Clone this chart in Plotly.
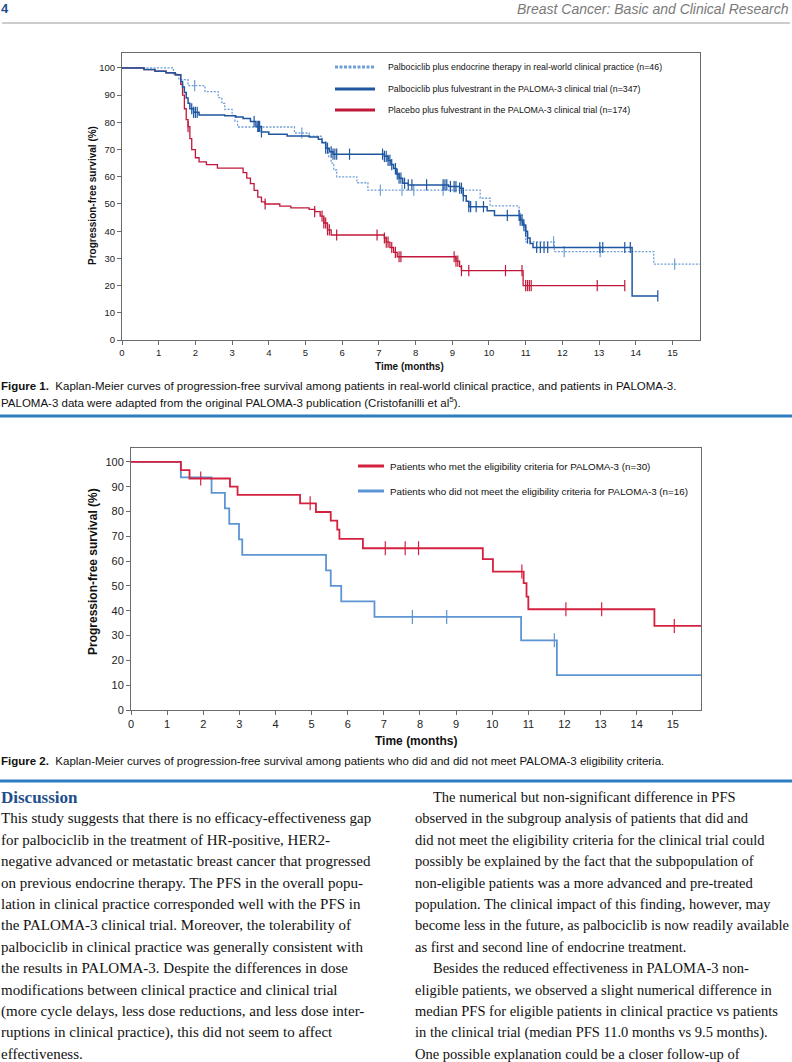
import numpy as np
import plotly.graph_objects as go

W, H = 792, 1062

# ---------------- Figure 1 data ----------------
rw_t = [0, 1.4, 1.55, 1.8, 2.26, 2.62, 2.72, 2.8, 3.0, 3.08, 3.15, 4.7, 5.1, 5.45, 5.55, 5.63, 5.7, 5.77, 5.85, 6.4, 6.7, 9.76, 10.03, 10.82, 10.9, 10.96, 11.0, 11.78, 14.49, 15.78]
rw_s = [100, 97.8, 95.7, 93.5, 91.3, 89.1, 87.0, 84.8, 82.6, 80.4, 78.3, 76.1, 74.9, 72.9, 70.5, 67.4, 65.0, 62.5, 60.0, 57.8, 55.1, 52.1, 49.3, 46.5, 43.5, 40.0, 36.1, 32.5, 27.9, 27.9]
rw_cens = [1.98, 4.9, 7.04, 7.63, 7.95, 8.75, 11.76, 12.05, 13.03, 15.06]

pal_t = [0, 0.6, 0.9, 1.2, 1.45, 1.6, 1.65, 1.7, 1.75, 1.8, 1.85, 1.95, 2.1, 2.8, 3.1, 3.3, 3.5, 3.65, 3.8, 4.0, 4.5, 5.1, 5.35, 5.45, 5.55, 5.65, 5.75, 7.15, 7.25, 7.33, 7.4, 7.47, 7.55, 7.65, 7.8, 8.9, 9.2, 9.3, 9.38, 9.45, 9.95, 10.15, 10.85, 10.92, 11.0, 11.05, 11.12, 11.2, 13.9, 14.6]
pal_s = [100, 99.4, 98.8, 98.2, 97.5, 95, 93, 91, 89, 87, 85, 83.7, 82.7, 82.4, 82, 81.4, 80.3, 78.5, 76.5, 75.6, 75, 74.6, 73.8, 72.5, 70.5, 69.2, 68.3, 67.5, 66, 64.5, 63, 61, 59.5, 57.6, 57, 56.4, 55.8, 53, 51, 49, 47.5, 45.8, 44.1, 42.3, 40, 37.5, 35.5, 34, 16.2, 16.2]
pal_cens = [1.9, 1.95, 2.0, 2.05, 3.6, 3.7, 3.72, 3.75, 3.8, 5.55, 5.6, 5.7, 5.75, 5.8, 5.85, 6.2, 7.1, 7.15, 7.2, 7.25, 7.3, 7.35, 7.45, 7.5, 7.55, 7.6, 7.7, 7.8, 7.9, 8.3, 8.75, 8.8, 8.85, 8.95, 9.05, 9.1, 9.2, 9.25, 9.3, 9.45, 9.5, 9.65, 9.85, 10.5, 10.82, 10.85, 10.9, 10.95, 11.0, 11.05, 11.3, 11.4, 11.5, 11.6, 13.02, 13.1, 13.7, 13.85, 14.6]

plc_t = [0, 0.6, 0.9, 1.2, 1.45, 1.6, 1.65, 1.7, 1.75, 1.8, 1.85, 1.9, 2.0, 2.1, 2.3, 2.6, 3.3, 3.4, 3.5, 3.6, 3.7, 3.8, 3.9, 4.3, 4.6, 5.1, 5.25, 5.4, 5.5, 5.6, 5.7, 7.15, 7.2, 7.3, 7.4, 7.5, 9.1, 9.2, 9.25, 10.93, 13.7]
plc_s = [100, 99.4, 98.8, 98.2, 97.5, 94, 90, 85, 81, 78.4, 74, 70, 67, 65.5, 64.5, 63.2, 61.5, 59.5, 57.5, 55, 52.5, 50.8, 50, 49.2, 48.6, 48, 47.2, 45.5, 43, 40.5, 38.6, 37.5, 36, 34, 32.2, 30.6, 29, 27, 25.5, 20, 20]
plc_cens = [1.8, 3.9, 5.25, 5.45, 5.5, 5.55, 5.6, 5.65, 5.85, 6.95, 7.15, 7.2, 7.25, 7.35, 7.45, 7.55, 7.6, 9.05, 9.1, 9.15, 9.25, 9.45, 10.45, 10.9, 11.0, 11.05, 11.1, 11.15, 12.95, 13.7]

# ---------------- Figure 2 data ----------------
met_t = [0, 1.38, 1.62, 2.74, 2.95, 4.68, 5.12, 5.53, 5.71, 5.77, 6.42, 9.74, 10.02, 10.87, 10.95, 11.0, 14.49, 15.78]
met_s = [100, 96.7, 93.3, 90.0, 86.7, 83.3, 79.8, 76.3, 72.7, 69.0, 65.2, 60.8, 55.8, 51.1, 45.7, 40.6, 33.9, 33.9]
met_cens = [1.93, 4.96, 7.04, 7.59, 7.96, 10.82, 12.04, 13.03, 15.04]

not_t = [0, 1.38, 2.23, 2.6, 2.72, 2.99, 3.08, 5.4, 5.53, 5.82, 6.74, 10.8, 11.79, 15.78]
not_s = [100, 93.75, 87.5, 81.25, 75, 68.75, 62.5, 56.25, 50, 43.75, 37.5, 28.1, 14.06, 14.06]
not_cens = [7.79, 8.74, 11.72]

x_ticks = list(range(0, 16))
y_ticks = list(range(0, 101, 10))

leg1 = ["Palbociclib plus endocrine therapy in real-world clinical practice (n=46)",
        "Palbociclib plus fulvestrant in the PALOMA-3 clinical trial (n=347)",
        "Placebo plus fulvestrant in the PALOMA-3 clinical trial (n=174)"]
leg2 = ["Patients who met the eligibility criteria for PALOMA-3 (n=30)",
        "Patients who did not meet the eligibility criteria for PALOMA-3 (n=16)"]

C_LB = "#6f9fd6"
C_DB = "#1e56a0"
C_RD = "#c0183a"
C2_RD = "#d4213f"
C2_BL = "#5c94d4"


def step_at(ts, ss, q):
    ts = np.asarray(ts); ss = np.asarray(ss)
    idx = np.searchsorted(ts, np.asarray(q), side="right") - 1
    return ss[idx]


def px(x):
    return x / W


def py(y):
    return 1 - y / H


fig = go.Figure()

SANS = "Liberation Sans, Arial, sans-serif"


def add_curve(ts, ss, cens, color, width, dash, xa, ya, msize, name):
    fig.add_trace(go.Scatter(x=ts, y=ss, mode="lines", line=dict(color=color, width=width, dash=dash, shape="hv"),
                             xaxis=xa, yaxis=ya, showlegend=False, name=name, hoverinfo="skip"))
    fig.add_trace(go.Scatter(x=cens, y=step_at(ts, ss, cens), mode="markers",
                             marker=dict(symbol="line-ns", size=msize, line=dict(color=color, width=1.2)),
                             xaxis=xa, yaxis=ya, showlegend=False, name=name, hoverinfo="skip"))


add_curve(rw_t, rw_s, rw_cens, C_LB, 1.3, "2px,1.5px", "x", "y", 8, leg1[0])
add_curve(plc_t, plc_s, plc_cens, C_RD, 1.3, "solid", "x", "y", 8, leg1[2])
add_curve(pal_t, pal_s, pal_cens, C_DB, 1.5, "solid", "x", "y", 8, leg1[1])
add_curve(not_t, not_s, not_cens, C2_BL, 1.8, "solid", "x2", "y2", 10, leg2[1])
add_curve(met_t, met_s, met_cens, C2_RD, 1.8, "solid", "x2", "y2", 10, leg2[0])


def axis(domain, rng, vals, anchor, size):
    return dict(domain=domain, range=rng, tickvals=vals, anchor=anchor, automargin=False,
                showgrid=False, zeroline=False, showline=True, mirror=True, linecolor="#6b6b6b", linewidth=1,
                ticks="outside", ticklen=4, tickcolor="#6b6b6b",
                tickfont=dict(family=SANS, size=size, color="#222"))


fig.update_layout(
    width=W, height=H, margin=dict(l=0, r=0, t=0, b=0, autoexpand=False), paper_bgcolor="white", plot_bgcolor="white",
    xaxis=axis([px(122), px(700)], [0, 15.75], x_ticks, "y", 9.5),
    yaxis=axis([py(340), py(53)], [0, 105.5], y_ticks, "x", 9.5),
    xaxis2=axis([px(131), px(701)], [0, 15.78], x_ticks, "y2", 11),
    yaxis2=axis([py(710), py(448)], [0, 105.6], y_ticks, "x2", 11),
)

ann = []
shapes = []


def text(x, y, s, size, family=SANS, color="#111", xanchor="left", angle=0, yanchor="middle"):
    ann.append(dict(x=px(x), y=py(y), xref="paper", yref="paper", text=s, showarrow=False, xanchor=xanchor,
                    yanchor=yanchor, textangle=angle, font=dict(family=family, size=size, color=color)))


def hline(x0, x1, y, color, width, dash="solid"):
    shapes.append(dict(type="line", xref="paper", yref="paper", x0=px(x0), x1=px(x1), y0=py(y), y1=py(y),
                       line=dict(color=color, width=width, dash=dash)))


# header
text(-1, 9, "<b>4</b>", 13, color="#1f4e8c")
text(791, 9, "<i>Breast Cancer: Basic and Clinical Research</i>", 14, color="#7a7a7a", xanchor="right")
hline(2, 790, 23, "#9a9a9a", 1)

# Figure 1 legend
leg_y1 = [67, 89, 110]
hline(335, 375, leg_y1[0], C_LB, 3, "3px,1.5px")
hline(335, 375, leg_y1[1], C_DB, 3)
hline(335, 375, leg_y1[2], C_RD, 3)
for yy, s in zip(leg_y1, leg1):
    text(386, yy, s, 8.8)

# Figure 1 axis titles
text(92, 196, "<b>Progression-free survival (%)</b>", 10, angle=-90, xanchor="center")
text(410, 367, "<b>Time (months)</b>", 10, xanchor="center")

# Figure 1 caption
text(-1, 386, "<b>Figure 1.</b>  Kaplan-Meier curves of progression-free survival among patients in real-world clinical practice, and patients in PALOMA-3.", 11.5)
text(-1, 402, "PALOMA-3 data were adapted from the original PALOMA-3 publication (Cristofanilli et al<sup>5</sup>).", 11.5)
hline(0, 792, 416, "#2d7dbf", 3)

# Figure 2 legend
leg_y2 = [466, 491]
hline(358, 384, leg_y2[0], C2_RD, 3)
hline(358, 384, leg_y2[1], C2_BL, 3)
for yy, s in zip(leg_y2, leg2):
    text(388, yy, s, 9.8)

text(93, 572, "<b>Progression-free survival (%)</b>", 12, angle=-90, xanchor="center")
text(416, 741, "<b>Time (months)</b>", 12, xanchor="center")

text(-1, 761, "<b>Figure 2.</b>  Kaplan-Meier curves of progression-free survival among patients who did and did not meet PALOMA-3 eligibility criteria.", 11.5)
hline(0, 792, 781, "#2d7dbf", 3)

# Body text
SERIF = "Liberation Serif, Times New Roman, serif"
left_lines = [
    "This study suggests that there is no efficacy-effectiveness gap",
    "for palbociclib in the treatment of HR-positive, HER2-",
    "negative advanced or metastatic breast cancer that progressed",
    "on previous endocrine therapy. The PFS in the overall popu-",
    "lation in clinical practice corresponded well with the PFS in",
    "the PALOMA-3 clinical trial. Moreover, the tolerability of",
    "palbociclib in clinical practice was generally consistent with",
    "the results in PALOMA-3. Despite the differences in dose",
    "modifications between clinical practice and clinical trial",
    "(more cycle delays, less dose reductions, and less dose inter-",
    "ruptions in clinical practice), this did not seem to affect",
    "effectiveness.",
]
right_lines = [
    "The numerical but non-significant difference in PFS",
    "observed in the subgroup analysis of patients that did and",
    "did not meet the eligibility criteria for the clinical trial could",
    "possibly be explained by the fact that the subpopulation of",
    "non-eligible patients was a more advanced and pre-treated",
    "population. The clinical impact of this finding, however, may",
    "become less in the future, as palbociclib is now readily available",
    "as first and second line of endocrine treatment.",
    "Besides the reduced effectiveness in PALOMA-3 non-",
    "eligible patients, we observed a slight numerical difference in",
    "median PFS for eligible patients in clinical practice vs patients",
    "in the clinical trial (median PFS 11.0 months vs 9.5 months).",
    "One possible explanation could be a closer follow-up of",
]
row0 = 797
step = 21.4
text(-1, row0, "<b>Discussion</b>", 17, family=SERIF, color="#1f4e8c")
for i, s in enumerate(left_lines):
    text(-1, row0 + step * (i + 1), s, 15.0, family=SERIF)
for i, s in enumerate(right_lines):
    indent = 18 if i in (0, 8) else 0
    text(413 + indent, row0 + step * i, s, 14.5, family=SERIF)

fig.update_layout(annotations=ann, shapes=shapes)
fig.write_html("out.html", config={"displayModeBar": False},
               post_script="document.body.style.margin='0';document.body.style.overflow='hidden';")
